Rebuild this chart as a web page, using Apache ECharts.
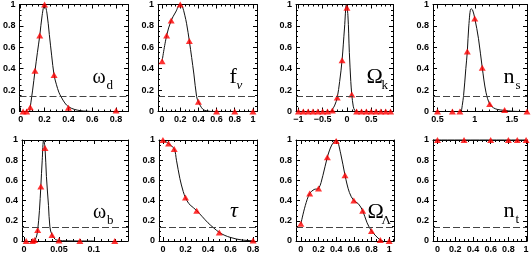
<!DOCTYPE html>
<html><head><meta charset="utf-8">
<script src="https://cdn.jsdelivr.net/npm/echarts@6/dist/echarts.min.js"></script>
<style>html,body{margin:0;padding:0;background:#fff}#c{width:532px;height:254px}</style>
</head><body><div id="c"></div>
<script>
// ---------- data ----------
const yTickLabels = [0, 0.2, 0.4, 0.6, 0.8, 1];
const cutLevel = 0.135;

const wdTriX = [0.02, 0.05, 0.08, 0.12, 0.16, 0.2, 0.28, 0.4, 0.8];
const wdTriY = [0, 0, 0.04, 0.38, 0.71, 1.0, 0.34, 0.035, 0.01];
const wdCurveX = [0.075, 0.08, 0.092, 0.1, 0.12, 0.14, 0.16, 0.18, 0.2, 0.22, 0.24, 0.26, 0.28, 0.3, 0.32, 0.34, 0.37, 0.4, 0.45, 0.5, 0.55, 0.6];
const wdCurveY = [0, 0.04, 0.135, 0.2, 0.38, 0.55, 0.71, 0.9, 1.0, 0.92, 0.72, 0.52, 0.34, 0.25, 0.18, 0.135, 0.08, 0.045, 0.02, 0.008, 0.003, 0];

const fnTriX = [0, 0.05, 0.1, 0.2, 0.3, 0.4, 0.6, 0.8, 1.0];
const fnTriY = [0.47, 0.71, 0.85, 1.0, 0.66, 0.09, 0, 0, 0];
const fnCurveX = [0, 0.05, 0.1, 0.15, 0.2, 0.22, 0.25, 0.27, 0.3, 0.35, 0.38, 0.4, 0.45, 0.5, 0.55, 0.6];
const fnCurveY = [0.47, 0.71, 0.85, 0.93, 1.0, 0.99, 0.9, 0.82, 0.66, 0.35, 0.14, 0.09, 0.02, 0.005, 0, 0];

const okTriX = [-1, -0.9, -0.8, -0.7, -0.6, -0.5, -0.4, -0.3, -0.2, -0.1, 0, 0.1, 0.2, 0.3, 0.4, 0.5, 0.6, 0.7, 0.8, 0.9];
const okTriY = [0, 0, 0, 0, 0, 0, 0, 0.01, 0.13, 0.48, 0.97, 0.16, 0, 0, 0, 0, 0, 0, 0, 0];
const okCurveX = [-0.34, -0.3, -0.25, -0.2, -0.15, -0.1, -0.05, -0.01, 0.02, 0.05, 0.08, 0.1, 0.13, 0.16, 0.19];
const okCurveY = [0, 0.02, 0.06, 0.13, 0.28, 0.48, 0.78, 1.0, 0.9, 0.55, 0.28, 0.16, 0.05, 0.01, 0];

const nsTriX = [0.5, 0.7, 0.8, 0.9, 1.0, 1.1, 1.2, 1.4, 1.7];
const nsTriY = [0, 0, 0, 0.56, 0.87, 0.41, 0.07, 0.013, 0];
const nsCurveX = [0.82, 0.85, 0.88, 0.9, 0.92, 0.95, 0.97, 1.0, 1.05, 1.1, 1.15, 1.2, 1.25, 1.3, 1.4, 1.5, 1.6];
const nsCurveY = [0, 0.15, 0.4, 0.56, 0.8, 0.96, 0.95, 0.87, 0.68, 0.41, 0.18, 0.07, 0.035, 0.02, 0.01, 0.003, 0];

const wbTriX = [0.003, 0.012, 0.015, 0.0195, 0.024, 0.03, 0.04, 0.05, 0.08, 0.13];
const wbTriY = [0, 0, 0.01, 0.11, 0.54, 0.92, 0.06, 0.005, 0, 0];
const wbCurveX = [0.015, 0.018, 0.0195, 0.022, 0.024, 0.026, 0.028, 0.03, 0.032, 0.035, 0.037, 0.04, 0.045, 0.05, 0.06, 0.08, 0.1];
const wbCurveY = [0, 0.05, 0.11, 0.3, 0.54, 0.8, 1.0, 0.92, 0.64, 0.35, 0.14, 0.06, 0.015, 0.005, 0.002, 0, 0];

const tauTriX = [0, 0.05, 0.1, 0.2, 0.3, 0.5, 0.8];
const tauTriY = [1, 0.965, 0.91, 0.43, 0.3, 0.085, 0.005];
const tauCurveX = [0, 0.05, 0.1, 0.12, 0.15, 0.18, 0.2, 0.23, 0.27, 0.3, 0.35, 0.4, 0.45, 0.5, 0.55, 0.6, 0.65, 0.7, 0.75, 0.8];
const tauCurveY = [1, 0.965, 0.91, 0.8, 0.62, 0.49, 0.43, 0.37, 0.33, 0.3, 0.24, 0.18, 0.13, 0.085, 0.055, 0.035, 0.02, 0.01, 0.005, 0.002];

const olTriX = [0, 0.1, 0.2, 0.3, 0.4, 0.5, 0.6, 0.7, 0.8, 0.9, 1.0];
const olTriY = [0.17, 0.47, 0.52, 0.83, 0.99, 0.65, 0.40, 0.30, 0.10, 0.01, 0.0];
const olCurveX = [0, 0.05, 0.1, 0.15, 0.2, 0.25, 0.3, 0.35, 0.4, 0.45, 0.5, 0.55, 0.6, 0.65, 0.7, 0.75, 0.8, 0.85, 0.9, 0.93];
const olCurveY = [0.17, 0.35, 0.47, 0.51, 0.52, 0.65, 0.83, 0.95, 1.0, 0.87, 0.65, 0.48, 0.40, 0.37, 0.30, 0.18, 0.10, 0.05, 0.01, 0];

const ntTriX = [0, 0.3, 0.6, 0.8, 0.9, 1.0];
const ntTriY = [1, 1, 1, 1, 1, 1];
const ntCurveX = [-0.05, 1.0];
const ntCurveY = [1, 1];

// ---------- layout ----------
const panels = [
  {triX: wdTriX, triY: wdTriY, cX: wdCurveX, cY: wdCurveY, left: 17, top: 3, width: 111, height: 108.5, xmin: -0.01, xmax: 0.9, major: 0.2, minor: 0.05},
  {triX: fnTriX, triY: fnTriY, cX: fnCurveX, cY: fnCurveY, left: 158, top: 3, width: 99, height: 108.5, xmin: -0.045, xmax: 1.045, major: 0.2, minor: 0.05},
  {triX: okTriX, triY: okTriY, cX: okCurveX, cY: okCurveY, left: 296, top: 3, width: 97, height: 108.5, xmin: -1.05, xmax: 0.95, major: 0.5, minor: 0.1},
  {triX: nsTriX, triY: nsTriY, cX: nsCurveX, cY: nsCurveY, left: 433, top: 3, width: 94, height: 108.5, xmin: 0.44, xmax: 1.7, major: 0.5, minor: 0.1},
  {triX: wbTriX, triY: wbTriY, cX: wbCurveX, cY: wbCurveY, left: 22, top: 140, width: 106, height: 103, xmin: -0.003, xmax: 0.149, major: 0.05, minor: 0.01},
  {triX: tauTriX, triY: tauTriY, cX: tauCurveX, cY: tauCurveY, left: 159, top: 140, width: 98, height: 103, xmin: -0.035, xmax: 0.835, major: 0.2, minor: 0.05},
  {triX: olTriX, triY: olTriY, cX: olCurveX, cY: olCurveY, left: 296, top: 140, width: 98, height: 103, xmin: -0.055, xmax: 1.055, major: 0.2, minor: 0.05},
  {triX: ntTriX, triY: ntTriY, cX: ntCurveX, cY: ntCurveY, left: 433, top: 140, width: 94, height: 103, xmin: -0.05, xmax: 1.01, major: 0.2, minor: 0.05}
];

const titles = [
  {main: 'ω', sub: 'd', x: 92.5, y: 85, sx: 106.5, sy: 90, fs: 20, style: 'normal'},
  {main: 'f', sub: 'ν', x: 229.5, y: 85, sx: 236.5, sy: 90, fs: 22, style: 'normal', subStyle: 'italic'},
  {main: 'Ω', sub: 'k', x: 366.5, y: 85, sx: 381.5, sy: 90, fs: 22, style: 'normal'},
  {main: 'n', sub: 's', x: 503.5, y: 85, sx: 515.5, sy: 90, fs: 22, style: 'normal'},
  {main: 'ω', sub: 'b', x: 93, y: 220, sx: 107, sy: 224.5, fs: 20, style: 'normal'},
  {main: 'τ', sub: '', x: 230, y: 219, sx: 0, sy: 0, fs: 22, style: 'italic'},
  {main: 'Ω', sub: 'Λ', x: 367.5, y: 220, sx: 381.5, sy: 225, fs: 22, style: 'normal'},
  {main: 'n', sub: 't', x: 503.5, y: 219, sx: 515.5, sy: 224, fs: 22, style: 'normal'}
];

function ticksIn(min, max, step) {
  const out = [];
  const k0 = Math.ceil(min / step - 1e-9), k1 = Math.floor(max / step + 1e-9);
  for (let k = k0; k <= k1; k++) out.push(+(k * step).toFixed(6));
  return out;
}
function fmt(v) { return String(+(+v).toFixed(4)).replace('-', '\u2212'); }
const zip = (a, b) => a.map((v, i) => [v, b[i]]);

const labelFont = {color: '#000', fontSize: 9, fontWeight: 'bold', fontFamily: 'Liberation Sans, Arial, sans-serif'};
const grids = [], xAxes = [], yAxes = [], series = [];

function mkAxis(gi, min, max, pos, majors, minors, labels, isX) {
  const line = {show: true, onZero: false, lineStyle: {color: '#000', width: 1}};
  const base = {gridIndex: gi, type: 'value', min: min, max: max, position: pos, splitLine: {show: false}, scale: false};
  const a1 = Object.assign({}, base, {
    axisLine: line,
    axisTick: {show: true, inside: true, length: 4, customValues: majors, lineStyle: {color: '#000', width: 1}},
    axisLabel: labels ? Object.assign({show: true, customValues: majors, formatter: fmt, margin: isX ? 4 : 4}, labelFont) : {show: false}
  });
  const a2 = Object.assign({}, base, {
    axisLine: {show: false, onZero: false},
    axisTick: {show: true, inside: true, length: 2, customValues: minors, lineStyle: {color: '#000', width: 1}},
    axisLabel: {show: false}
  });
  return [a1, a2];
}

panels.forEach((p, i) => {
  grids.push({left: p.left, top: p.top, width: p.width, height: p.height});
  const xM = ticksIn(p.xmin, p.xmax, p.major), xm = ticksIn(p.xmin, p.xmax, p.minor);
  const yM = yTickLabels, ym = ticksIn(0, 1, 0.05);
  xAxes.push(...mkAxis(i, p.xmin, p.xmax, 'bottom', xM, xm, true, true));
  xAxes.push(...mkAxis(i, p.xmin, p.xmax, 'top', xM, xm, false, true));
  yAxes.push(...mkAxis(i, 0, 1, 'left', yM, ym, true, false));
  yAxes.push(...mkAxis(i, 0, 1, 'right', yM, ym, false, false));
  const ai = i * 4;
  series.push({
    type: 'line', xAxisIndex: ai, yAxisIndex: ai, data: zip(p.cX, p.cY),
    smooth: 0.35, symbol: 'none', clip: false, z: 2,
    lineStyle: {color: '#111', width: 1},
    markLine: {silent: true, symbol: 'none', label: {show: false}, animation: false,
      lineStyle: {type: [7, 3], color: '#444', width: 1},
      emphasis: {disabled: true},
      data: [{yAxis: cutLevel}]}
  });
  series.push({
    type: 'scatter', xAxisIndex: ai, yAxisIndex: ai, data: zip(p.triX, p.triY),
    symbol: 'triangle', symbolSize: [7, 6], z: 3, clip: false,
    itemStyle: {color: '#ff0000'}
  });
});

const graphics = [];
titles.forEach(t => {
  graphics.push({type: 'text', x: t.x, y: t.y - 0.34 * t.fs, silent: true,
    style: {text: t.main, font: t.style + ' ' + t.fs + 'px "Liberation Serif", "DejaVu Serif", serif', fill: '#000', textAlign: 'left', textVerticalAlign: 'middle'}});
  if (t.sub) graphics.push({type: 'text', x: t.sx, y: t.sy - 0.34 * 13, silent: true,
    style: {text: t.sub, font: (t.subStyle || 'normal') + ' 13px "Liberation Serif", "DejaVu Serif", serif', fill: '#000', textAlign: 'left', textVerticalAlign: 'middle'}});
});

const chart = echarts.init(document.getElementById('c'), null, {renderer: 'canvas'});
chart.setOption({
  animation: false,
  backgroundColor: '#fff',
  grid: grids, xAxis: xAxes, yAxis: yAxes, series: series,
  graphic: graphics
});
</script></body></html>
